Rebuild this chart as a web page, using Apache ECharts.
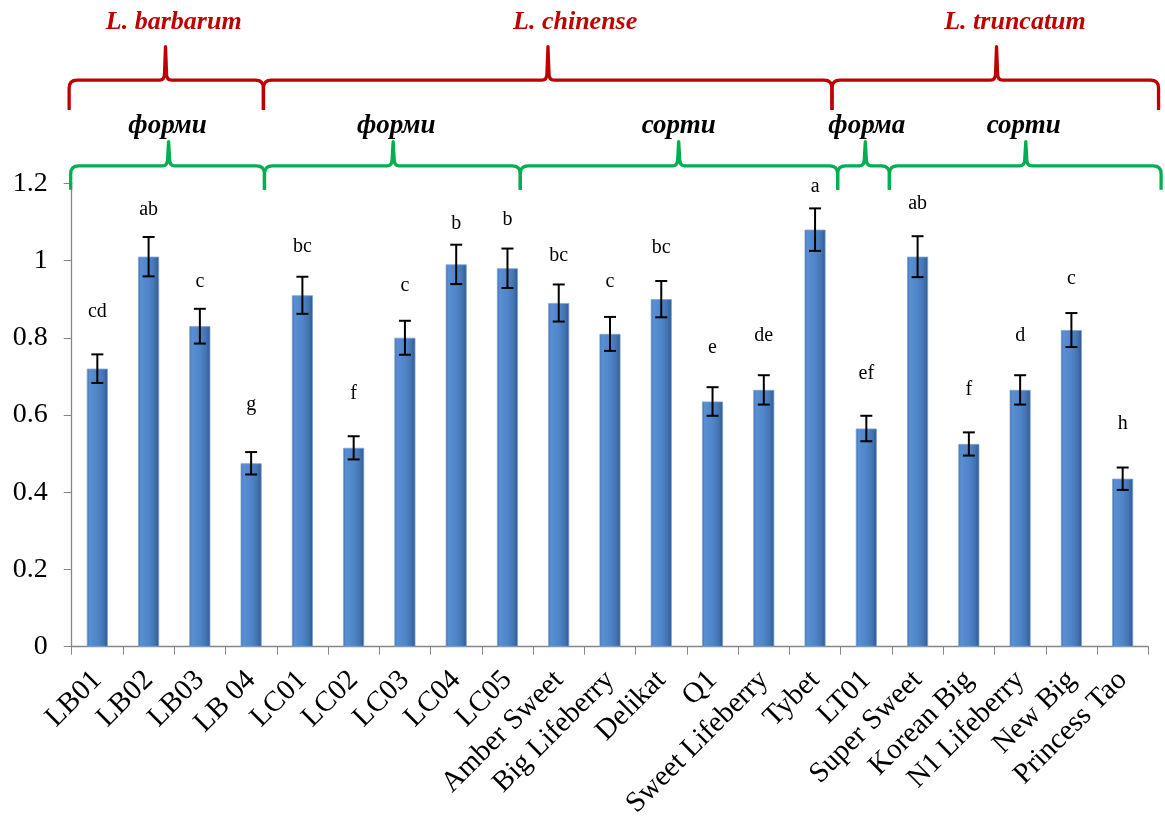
<!DOCTYPE html>
<html>
<head>
<meta charset="utf-8">
<script src="https://cdn.jsdelivr.net/npm/echarts@6/dist/echarts.min.js"></script>
<style>
html,body{margin:0;padding:0;background:#fff;}
#main{width:1165px;height:816px;}
</style>
</head>
<body>
<div id="main"></div>
<script>
// категорії та значення
var categories = ['LB01','LB02','LB03','LB 04','LC01','LC02','LC03','LC04','LC05','Amber Sweet','Big Lifeberry','Delikat','Q1','Sweet Lifeberry','Tybet','LT01','Super Sweet','Korean Big','N1 Lifeberry','New Big','Princess Tao'];
var values = [0.72,1.01,0.83,0.475,0.91,0.515,0.80,0.99,0.98,0.89,0.81,0.90,0.635,0.665,1.08,0.565,1.01,0.525,0.665,0.82,0.435];
var errors = [0.037,0.051,0.045,0.029,0.048,0.030,0.044,0.051,0.051,0.048,0.044,0.047,0.037,0.038,0.055,0.033,0.053,0.030,0.038,0.044,0.029];
var letters = ['cd','ab','c','g','bc','f','c','b','b','bc','c','bc','e','de','a','ef','ab','f','d','c','h'];
var letterY = [0.867,1.131,0.945,0.626,1.036,0.656,0.934,1.094,1.105,1.012,0.945,1.033,0.775,0.805,1.19,0.706,1.146,0.665,0.805,0.952,0.578];
var yTicks = [0,0.2,0.4,0.6,0.8,1,1.2];

// дужки (у одиницях категорій)
var speciesNames = ['L. barbarum','L. chinense','L. truncatum'];
var speciesFrom = [-0.05,3.74,14.83];
var speciesTo = [3.74,14.83,21.2];
var speciesPeak = [1.83,9.29,18.04];
var speciesTextX = [1.99,9.82,18.4];

var groupNames = ['форми','форми','сорти','форма','сорти'];
var groupFrom = [-0.02,3.76,8.75,14.94,15.95];
var groupTo = [3.76,8.75,14.94,15.95,21.25];
var groupPeak = [1.89,6.27,11.84,15.48,18.61];
var groupTextX = [1.87,6.33,11.84,15.51,18.57];

var serif = '"Liberation Serif","Times New Roman",serif';

function braceRender(from,to,peak,textX,names,lv,color,textColor,fontSize){
	return function(params,api){
		var i = params.dataIndex;
		var c0 = api.coord([0,0])[0];
		var bw = api.coord([1,0])[0] - c0;
		var px = function(u){ return c0 + (u-0.5)*bw; };
		var yL = api.coord([0,lv.line])[1];
		var yT = api.coord([0,lv.tip])[1];
		var yP = api.coord([0,lv.peak])[1];
		var yTx = api.coord([0,lv.text])[1];
		var x0 = px(from[i]), x1 = px(to[i]), pk = px(peak[i]);
		var r = 8;
		var d = 'M'+x0+','+yT+' L'+x0+','+(yL+r)+' Q'+x0+','+yL+' '+(x0+r)+','+yL+
			' L'+(pk-6)+','+yL+' Q'+(pk-1)+','+yL+' '+(pk-1)+','+(yL-7)+' L'+pk+','+yP+
			' L'+(pk+1)+','+(yL-7)+' Q'+(pk+1)+','+yL+' '+(pk+6)+','+yL+
			' L'+(x1-r)+','+yL+' Q'+x1+','+yL+' '+x1+','+(yL+r)+' L'+x1+','+yT;
		return {
			type:'group',
			children:[{
				type:'path',
				shape:{pathData:d},
				style:{stroke:color,lineWidth:3.3,fill:null,lineJoin:'round'}
			},{
				type:'text',
				style:{
					text:names[i],x:px(textX[i]),y:yTx,fill:textColor,
					font:'italic bold '+fontSize+'px '+serif,
					align:'center',verticalAlign:'middle'
				}
			}]
		};
	};
}

var myChart = echarts.init(document.getElementById('main'));
var option = {
	animation:false,
	grid:{left:71.7,right:16.7,top:183.3,bottom:169.3,containLabel:false,outerBoundsMode:'none'},
	xAxis:{
		type:'category',
		data:categories,
		axisLine:{lineStyle:{color:'#868686',width:1.3}},
		axisTick:{show:true,length:8,interval:0,lineStyle:{color:'#868686'}},
		axisLabel:{interval:0,rotate:45,margin:29,color:'#000',fontSize:29,fontFamily:serif}
	},
	yAxis:{
		type:'value',min:0,max:1.2,interval:0.2,
		splitLine:{show:false},
		axisLine:{show:true,lineStyle:{color:'#868686',width:1.3}},
		axisTick:{show:true,length:8,lineStyle:{color:'#868686'}},
		axisLabel:{margin:24,color:'#000',fontSize:28,fontFamily:serif,
			formatter:function(v){ return yTicks.indexOf(+v.toFixed(1))>=0 ? String(+v.toFixed(1)) : ''; }}
	},
	series:[{
		type:'bar',
		data:values,
		barWidth:'41%',
		itemStyle:{
			borderColor:'#7ea3d6',borderWidth:0.8,
			color:new echarts.graphic.LinearGradient(0,0,1,0,[
				{offset:0,color:'#3c68a3'},
				{offset:0.12,color:'#5a8fd2'},
				{offset:0.5,color:'#4f86c9'},
				{offset:0.8,color:'#4273b1'},
				{offset:1,color:'#30568a'}
			])
		}
	},{
		type:'custom',
		data:values.map(function(v,i){ return [i,v-errors[i],v+errors[i]]; }),
		encode:{x:0,y:[1,2]},
		z:5,
		renderItem:function(params,api){
			var lo = api.coord([api.value(0),api.value(1)]);
			var hi = api.coord([api.value(0),api.value(2)]);
			var w = 6;
			var st = {stroke:'#000',lineWidth:2};
			return {type:'group',children:[
				{type:'line',shape:{x1:lo[0],y1:lo[1],x2:hi[0],y2:hi[1]},style:st},
				{type:'line',shape:{x1:lo[0]-w,y1:lo[1],x2:lo[0]+w,y2:lo[1]},style:st},
				{type:'line',shape:{x1:hi[0]-w,y1:hi[1],x2:hi[0]+w,y2:hi[1]},style:st}
			]};
		}
	},{
		type:'custom',
		data:letterY.map(function(y,i){ return [i,y]; }),
		encode:{x:0,y:1},
		z:5,
		renderItem:function(params,api){
			var p = api.coord([api.value(0),api.value(1)]);
			return {type:'text',style:{text:letters[params.dataIndex],x:p[0],y:p[1],fill:'#000',
				font:'20px '+serif,align:'center',verticalAlign:'middle'}};
		}
	},{
		type:'custom',
		clip:false,
		data:speciesNames.map(function(){ return [0,0]; }),
		encode:{x:0,y:1},
		z:6,
		renderItem:braceRender(speciesFrom,speciesTo,speciesPeak,speciesTextX,speciesNames,
			{line:1.467,tip:1.39,peak:1.554,text:1.6175},'#c00000','#c00000',26)
	},{
		type:'custom',
		clip:false,
		data:groupNames.map(function(){ return [0,0]; }),
		encode:{x:0,y:1},
		z:6,
		renderItem:braceRender(groupFrom,groupTo,groupPeak,groupTextX,groupNames,
			{line:1.245,tip:1.183,peak:1.308,text:1.348},'#00b050','#000',27)
	}]
};
myChart.setOption(option);
</script>
</body>
</html>
